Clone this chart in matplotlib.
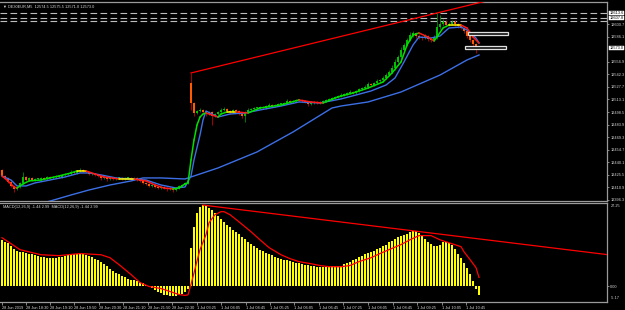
import matplotlib
matplotlib.use("Agg")
import matplotlib.pyplot as plt
import matplotlib.transforms as mtransforms
from matplotlib.collections import LineCollection
from matplotlib.patches import Rectangle
import numpy as np

# ---------------- data ----------------
title_text = "\u25BC DE30EUR,M5  12574.5 12575.5 12571.0 12573.0"
macd_text = "MACD(12,26,9) -1.44 2.99  MACD(12,26,9) -1.44 2.99"

first_open = 12431.2
gap_index = 63
gap_open = 12532.3

closes = [
    12424.2, 12421.9, 12417.2, 12412.6, 12409.1, 12411.4, 12416.0, 12423.0, 12419.5, 12421.9,
    12419.5, 12420.7, 12420.7, 12421.9, 12420.7, 12423.0, 12421.9, 12423.0, 12424.2, 12423.0,
    12425.4, 12426.5, 12426.5, 12428.8, 12427.7, 12430.0, 12431.2, 12430.0, 12428.8, 12426.5,
    12426.5, 12425.4, 12424.2, 12421.9, 12423.0, 12420.7, 12421.9, 12420.7, 12421.9, 12421.9,
    12420.7, 12421.9, 12421.9, 12420.7, 12421.9, 12419.5, 12418.4, 12416.0, 12414.9, 12412.6,
    12413.7, 12411.4, 12410.2, 12411.4, 12410.2, 12409.1, 12410.2, 12407.9, 12410.2, 12412.6,
    12413.7, 12416.0, 12418.4, 12509.0, 12497.4, 12499.7, 12500.9, 12498.6, 12496.2, 12498.6,
    12493.9, 12496.2, 12498.6, 12500.9, 12502.1, 12499.7, 12498.6, 12500.9, 12499.7, 12496.2,
    12493.9, 12498.6, 12500.9, 12502.1, 12503.2, 12503.2, 12504.4, 12503.2, 12505.5, 12506.7,
    12505.5, 12506.7, 12507.9, 12507.9, 12509.0, 12511.3, 12510.2, 12511.3, 12512.5, 12512.5,
    12511.3, 12510.2, 12507.9, 12509.0, 12510.2, 12509.0, 12510.2, 12511.3, 12512.5, 12513.7,
    12514.8, 12516.0, 12517.2, 12518.3, 12519.5, 12520.6, 12521.8, 12520.6, 12523.0, 12525.3,
    12526.4, 12527.6, 12531.1, 12529.9, 12532.3, 12534.6, 12535.7, 12538.1, 12541.6, 12545.0,
    12549.7, 12556.7, 12562.5, 12570.6, 12576.4, 12582.2, 12588.0, 12590.4, 12586.9, 12585.7,
    12584.5, 12586.9, 12583.4, 12582.2, 12585.7, 12597.3, 12600.8, 12603.1, 12599.7, 12600.8,
    12603.1, 12600.8, 12598.5, 12596.2, 12592.7, 12586.9, 12582.2, 12577.6, 12574.1, 12573.0,
]

wick_up = [
    1.5, 1.0, 0.8, 1.2, 0.8, 1.5, 1.2, 5.8, 1.0, 1.4,
    0.8, 1.2, 1.0, 0.9, 1.2, 1.5, 0.8, 1.0, 1.6, 0.9,
    1.2, 1.4, 1.0, 1.8, 0.8, 1.2, 2.0, 1.0, 0.9, 1.2,
    0.8, 1.0, 1.2, 0.9, 1.4, 0.8, 1.0, 1.2, 0.9, 1.1,
    0.8, 1.3, 1.0, 0.9, 1.2, 0.8, 1.0, 0.9, 1.1, 0.8,
    1.4, 0.9, 1.0, 1.2, 0.8, 1.0, 1.3, 0.9, 1.2, 1.4,
    1.0, 1.5, 1.2, 11.6, 1.0, 1.5, 1.8, 1.2, 1.0, 1.4,
    1.0, 1.2, 1.6, 2.0, 1.8, 1.2, 1.0, 1.5, 1.2, 1.0,
    0.8, 1.4, 2.0, 1.2, 1.0, 1.4, 1.6, 1.0, 1.2, 1.8,
    1.0, 1.4, 1.2, 1.0, 1.5, 1.8, 1.0, 1.2, 1.4, 1.0,
    1.2, 0.9, 1.0, 1.3, 1.2, 1.0, 1.4, 1.2, 1.5, 1.2,
    1.6, 1.2, 1.4, 1.8, 1.2, 1.5, 1.8, 1.0, 1.4, 1.6,
    1.2, 1.8, 2.2, 1.0, 1.5, 1.8, 1.4, 2.0, 2.2, 2.5,
    3.0, 3.5, 2.8, 3.2, 2.5, 2.8, 3.0, 2.5, 1.5, 1.8,
    1.2, 2.0, 1.5, 1.2, 2.0, 16.3, 10.5, 4.0, 2.5, 2.0,
    2.5, 1.8, 1.5, 1.2, 1.5, 1.2, 1.0, 1.4, 1.2, 1.0,
]

wick_dn = [
    1.0, 1.5, 1.2, 1.8, 3.5, 1.0, 0.9, 1.2, 1.4, 0.8,
    1.2, 1.0, 0.9, 1.3, 0.8, 1.0, 1.2, 0.9, 0.8, 1.1,
    1.0, 0.9, 1.3, 0.8, 1.0, 0.9, 1.2, 1.0, 1.5, 1.2,
    0.9, 1.4, 1.6, 2.3, 1.0, 1.8, 1.0, 1.2, 0.9, 1.0,
    1.2, 0.8, 1.0, 1.1, 0.9, 1.2, 1.4, 1.6, 1.2, 1.8,
    1.0, 1.5, 1.3, 1.0, 1.2, 2.3, 1.0, 2.3, 1.2, 0.9,
    1.0, 0.8, 1.0, 8.1, 3.5, 1.2, 1.0, 1.5, 1.8, 1.2,
    10.4, 1.5, 1.0, 1.2, 1.4, 1.0, 1.8, 1.2, 1.0, 1.5,
    2.0, 6.9, 1.2, 1.0, 1.4, 1.2, 1.0, 1.5, 1.2, 1.0,
    1.4, 1.2, 1.0, 1.3, 1.5, 1.2, 1.0, 1.2, 1.0, 1.4,
    1.2, 1.5, 2.0, 1.2, 1.0, 1.4, 1.2, 1.0, 1.2, 1.0,
    1.4, 1.2, 1.0, 1.2, 1.0, 1.4, 1.2, 1.5, 1.0, 1.2,
    1.4, 1.0, 1.2, 1.5, 1.2, 1.0, 1.4, 1.2, 1.0, 1.5,
    1.2, 2.0, 1.5, 1.8, 1.2, 1.5, 1.0, 1.8, 2.0, 2.5,
    1.8, 1.5, 2.0, 2.2, 1.5, 2.0, 2.5, 1.8, 2.0, 1.5,
    1.2, 1.8, 2.0, 1.5, 2.2, 2.0, 2.5, 2.0, 7.0, 1.5,
]

# colour-changing fast MA (bar index, price)
fast_idx = [0, 2, 4, 5, 7, 9, 13, 16, 19, 23, 25, 28, 31, 34, 39, 44, 48, 51, 54, 57,
            59, 61, 62, 63, 64, 65, 66, 67, 68, 70, 72, 73, 75, 78, 82, 86, 93, 99, 103, 107,
            112, 117, 122, 127, 130, 133, 135, 137, 139, 142, 144, 145, 147, 149, 153, 155, 157, 159]
fast_val = [12424.2, 12418.4, 12411.4, 12410.2, 12414.9, 12418.4, 12419.5, 12421.9, 12424.2, 12427.7,
            12430.0, 12430.0, 12426.5, 12423.0, 12420.7, 12420.7, 12418.4, 12413.7, 12410.2, 12409.1,
            12410.2, 12414.9, 12416.1, 12442.8, 12466.0, 12483.4, 12492.7, 12496.2, 12497.4, 12495.1,
            12492.7, 12496.2, 12498.6, 12498.6, 12497.4, 12503.2, 12506.7, 12512.5, 12510.2, 12509.0,
            12516.0, 12520.6, 12526.4, 12533.4, 12543.9, 12556.7, 12576.4, 12588.0, 12590.4, 12585.7,
            12581.1, 12585.7, 12596.2, 12599.6, 12599.6, 12596.2, 12585.7, 12578.7]

# blue MA following price
mid_idx = [0, 3, 5, 8, 11, 16, 21, 26, 29, 33, 38, 43, 48, 53, 58, 61, 63, 64, 66, 67,
           68, 70, 72, 76, 81, 86, 93, 99, 106, 113, 118, 123, 128, 131, 134, 137, 139, 143, 146, 149,
           153, 155, 158, 159]
mid_val = [12424.2, 12419.5, 12412.6, 12412.6, 12416.1, 12419.5, 12423.0, 12427.7, 12427.7, 12425.4,
           12421.9, 12420.7, 12419.5, 12413.7, 12410.2, 12411.4, 12424.2, 12442.8, 12471.8, 12489.3,
           12499.7, 12496.2, 12492.7, 12496.2, 12497.4, 12500.9, 12505.5, 12510.2, 12509.0, 12513.7,
           12518.3, 12523.0, 12529.9, 12538.1, 12556.7, 12576.4, 12585.7, 12584.5, 12586.9, 12596.2,
           12597.3, 12593.8, 12584.5, 12578.7]

# slow blue MA
slow_idx = [14, 23, 29, 36, 43, 47, 53, 61, 72, 85, 97, 110, 113, 122, 133, 146, 155, 159]
slow_val = [12393.0, 12402.1, 12407.9, 12413.7, 12418.4, 12421.9, 12421.9, 12420.7, 12433.5, 12452.1,
            12475.3, 12503.2, 12505.5, 12510.2, 12521.8, 12541.5, 12559.0, 12564.8]

# MACD histogram (main) and signal line
hist = [
    15.5, 15.0, 14.5, 13.5, 12.5, 11.8, 11.5, 11.5, 11.2, 11.0,
    10.8, 10.5, 10.3, 10.0, 9.8, 9.6, 9.5, 9.5, 9.6, 9.8,
    10.0, 10.2, 10.4, 10.6, 10.8, 11.0, 11.0, 10.8, 10.5, 10.2,
    9.8, 9.3, 8.8, 8.2, 7.5, 6.8, 6.0, 5.3, 4.6, 4.0,
    3.5, 3.0, 2.6, 2.3, 2.0, 1.7, 1.4, 1.0, 0.5, 0.0,
    -0.6, -1.2, -1.8, -2.3, -2.7, -3.0, -3.2, -3.3, -3.2, -2.9,
    -2.4, -1.8, -0.8, 13.0, 20.0, 24.5, 26.5, 27.2, 27.0, 26.3,
    25.5, 24.5, 23.5, 22.5, 21.5, 20.6, 19.8, 19.0, 18.2, 17.4,
    16.6, 15.8, 15.0, 14.3, 13.6, 12.9, 12.3, 11.8, 11.3, 10.8,
    10.4, 10.0, 9.6, 9.3, 9.0, 8.7, 8.4, 8.1, 7.9, 7.7,
    7.5, 7.3, 7.1, 6.9, 6.7, 6.6, 6.5, 6.4, 6.4, 6.5,
    6.7, 6.8, 6.9, 7.0, 7.4, 7.8, 8.3, 8.8, 9.3, 9.7,
    10.2, 10.7, 11.2, 11.6, 12.0, 12.4, 12.8, 13.4, 14.0, 14.7,
    15.3, 15.9, 16.4, 16.9, 17.3, 17.7, 18.1, 18.6, 18.4, 17.8,
    16.9, 15.9, 15.0, 14.2, 13.6, 13.4, 14.0, 14.9, 15.0, 14.6,
    13.8, 12.6, 11.0, 9.4, 7.9, 6.3, 4.3, 1.8, -0.8, -3.0,
]
sig_idx = [0, 6, 13, 19, 26, 33, 36, 39, 43, 46, 49, 53, 56, 59, 61, 62, 63, 64, 65, 66,
           68, 69, 71, 73, 74, 76, 79, 83, 86, 89, 93, 96, 99, 103, 106, 109, 113, 116, 119, 123,
           126, 129, 133, 136, 139, 143, 146, 149, 153, 154, 156, 158, 159]
sig_val = [16.3, 12.3, 10.6, 10.3, 11.0, 10.6, 9.6, 7.3, 4.0, 1.3, 0.0, -0.7, -1.7, -2.7, -3.0, -2.8,
           0.7, 4.5, 8.5, 12.3, 17.3, 21.3, 24.0, 25.0, 25.0, 24.0, 21.6, 18.3, 15.6, 13.0,
           10.6, 9.3, 8.3, 7.6, 7.0, 6.6, 6.6, 7.0, 8.3, 9.6, 11.0, 12.3, 14.0, 15.6, 17.0,
           17.0, 15.6, 14.6, 13.3, 11.6, 9.0, 6.3, 3.0]

levels = [12613.6, 12607.8, 12604.3]
level_boxes = ["12613.6", "12607.8"]
current_price = 12573.0
price_ticks = [12396.3, 12410.9, 12425.5, 12440.1, 12454.7, 12469.3, 12483.9, 12498.5,
               12513.1, 12527.7, 12542.3, 12556.9, 12586.1, 12600.7]

time_labels = ["28 Jun 2019", "28 Jun 18:30", "28 Jun 19:10", "28 Jun 19:50", "28 Jun 20:30",
               "28 Jun 21:10", "28 Jun 21:50", "28 Jun 22:30", "1 Jul 03:25", "1 Jul 04:05",
               "1 Jul 04:45", "1 Jul 05:25", "1 Jul 06:05", "1 Jul 06:45", "1 Jul 07:25",
               "1 Jul 08:05", "1 Jul 08:45", "1 Jul 09:25", "1 Jul 10:05", "1 Jul 10:45"]
time_pos = [0, 8, 16, 24, 32.3, 40.3, 48.7, 56.7, 65, 73, 81.3, 89.3, 97.3, 105.7, 113.7,
            122, 130.3, 138.3, 146.7, 154.7]

# trendline anchors (bar index)
tl_a, tl_b = 63, 145
mtl_a, mtl_b = 67, 137

# ---------------- style ----------------
BG = "black"
FG = "#d8d8d8"
SP = "#9a9a9a"
FONT = "Liberation Sans"
FS = 2.75

W, H = 625, 310
fig = plt.figure(figsize=(W / 100, H / 100), dpi=100, facecolor=BG)
ax1 = fig.add_axes([0, 1 - 201 / H, 607 / W, 199 / H], facecolor=BG)
ax2 = fig.add_axes([0, 1 - 302 / H, 607 / W, 99 / H], facecolor=BG)

n = len(closes)
idx = np.arange(n)
opens = [first_open] + closes[:-1]
opens[gap_index] = gap_open
o = np.array(opens)
c = np.array(closes)
hi = np.maximum(o, c) + np.array(wick_up)
lo = np.minimum(o, c) - np.array(wick_dn)
up = c >= o

xl = (-2 / 3, (607 - 2) / 3)
for ax in (ax1, ax2):
    ax.set_xlim(*xl)
    ax.spines["left"].set_visible(False)
    for s in ("right", "top", "bottom"):
        ax.spines[s].set_color(SP)
        ax.spines[s].set_linewidth(0.9)

ax1.set_ylim(12395.1, 12626.4)

# horizontal dashed levels
for lv in levels:
    ax1.axhline(lv, color="#bdbdbd", lw=0.8, ls=(0, (6, 3)), zorder=1)

# candles
bull_body, bull_wick = "#00c000", "#008a00"
bear_body, bear_wick = "#ff5a00", "#c00000"
ax1.vlines(idx[up], lo[up], hi[up], color=bull_wick, lw=0.6, zorder=2)
ax1.vlines(idx[~up], lo[~up], hi[~up], color=bear_wick, lw=0.6, zorder=2)
bh = np.abs(c - o)
bh = np.where(bh < 0.6, 0.6, bh)
ax1.bar(idx[up], bh[up], bottom=np.minimum(o, c)[up], width=0.55, color=bull_body, lw=0, zorder=3)
ax1.bar(idx[~up], bh[~up], bottom=np.minimum(o, c)[~up], width=0.55, color=bear_body, lw=0, zorder=3)

# moving averages
ax1.plot(slow_idx, slow_val, color="#3c6fe6", lw=1.0, zorder=4)
ax1.plot(mid_idx, mid_val, color="#3c6fe6", lw=1.0, zorder=4)
fx = np.array(fast_idx, float)
fv = np.array(fast_val)
segs, cols = [], []
for k in range(len(fx) - 1):
    segs.append([(fx[k], fv[k]), (fx[k + 1], fv[k + 1])])
    d = fv[k + 1] - fv[k]
    cols.append("#00e000" if d > 0.8 else ("#ff1a1a" if d < -0.8 else "#ffff00"))
ax1.add_collection(LineCollection(segs, colors=cols, linewidths=1.1, zorder=5, capstyle="round"))

# red trendline on price
sl = (hi[tl_b] - hi[tl_a]) / (tl_b - tl_a)
x_end = xl[1]
ax1.plot([tl_a, x_end], [hi[tl_a], hi[tl_a] + sl * (x_end - tl_a)], color="#ff0000", lw=0.9, zorder=6)

# rectangle objects
for (x0, x1, y0, y1) in [(155.3, 168.7, 12588.0, 12591.5), (154.3, 168.0, 12571.8, 12575.2)]:
    ax1.add_patch(Rectangle((x0, y0), x1 - x0, y1 - y0, facecolor="#1a1a1a",
                            edgecolor="#e0e0e0", lw=0.9, zorder=7))

# price axis
ax1.yaxis.tick_right()
ax1.set_yticks(price_ticks)
ax1.set_yticklabels([f"{v:.1f}" for v in price_ticks], fontsize=FS, color=FG, family=FONT)
ax1.tick_params(axis="y", length=1.5, width=0.6, color=SP, pad=0.8)
ax1.set_xticks([])

tr = mtransforms.blended_transform_factory(ax1.transAxes, ax1.transData)
for lv, lab in list(zip(levels[:2], level_boxes)) + [(current_price, f"{current_price:.1f}")]:
    ax1.text(1.0045, lv, lab, transform=tr, fontsize=FS, family=FONT, color="black", va="center",
             ha="left", clip_on=False, zorder=10,
             bbox=dict(boxstyle="square,pad=0.1", facecolor="white", edgecolor="white", lw=0.3))

ax1.text(0.005, 0.985, title_text, transform=ax1.transAxes, fontsize=FS, color=FG,
         family=[FONT, "DejaVu Sans"], va="top", ha="left")

# MACD panel
ax2.set_ylim(-5.2, 27.9)
ax2.bar(idx, hist, width=0.66, color="#ffff00", lw=0, zorder=2)
ax2.plot(sig_idx, sig_val, color="#ff0000", lw=0.9, zorder=3)
msl = (hist[mtl_b] - hist[mtl_a]) / (mtl_b - mtl_a)
ax2.plot([mtl_a, x_end], [hist[mtl_a], hist[mtl_a] + msl * (x_end - mtl_a)], color="#ff0000", lw=0.9, zorder=4)

ax2.yaxis.tick_right()
ax2.set_yticks([0.0])
ax2.set_yticklabels(["0.00"], fontsize=FS, color=FG, family=FONT)
ax2.tick_params(axis="y", length=1.5, width=0.6, color=SP, pad=0.8)
tr2 = ax2.transAxes
ax2.text(1.006, 0.985, "27.25", transform=tr2, fontsize=FS, color=FG, family=FONT, va="top", ha="left")
ax2.text(1.006, 0.02, "-5.17", transform=tr2, fontsize=FS, color=FG, family=FONT, va="bottom", ha="left")
ax2.text(0.005, 0.975, macd_text, transform=ax2.transAxes, fontsize=FS, color=FG, family=FONT,
         va="top", ha="left")

ax2.set_xticks(time_pos)
ax2.set_xticklabels(time_labels, fontsize=FS, color=FG, family=FONT, ha="left")
ax2.tick_params(axis="x", length=2.5, width=0.6, color=SP, pad=0.6)

fig.savefig("out.png", dpi=100, facecolor=BG)
